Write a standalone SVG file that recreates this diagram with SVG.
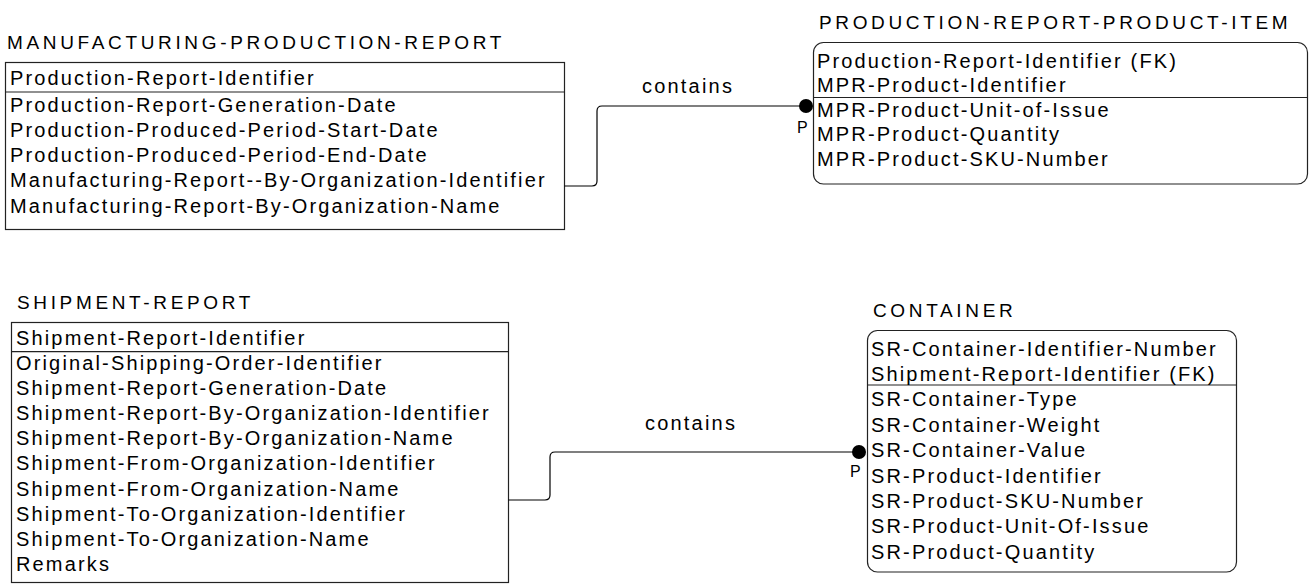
<svg xmlns="http://www.w3.org/2000/svg" width="1315" height="584" viewBox="0 0 1315 584">
  <style>
    .title { font-family: "Liberation Sans", Arial, sans-serif; font-size: 19px; letter-spacing: 3.65px; fill: #000; }
    .attr { font-family: "Liberation Sans", Arial, sans-serif; font-size: 20px; letter-spacing: 2.15px; fill: #000; }
    .lbl { font-family: "Liberation Sans", Arial, sans-serif; font-size: 20px; letter-spacing: 2.2px; fill: #000; }
    .card { font-family: "Liberation Sans", Arial, sans-serif; font-size: 16px; fill: #000; }
    .box { fill: #fff; stroke: #222; stroke-width: 1.2; }
    .div { stroke: #222; stroke-width: 1.2; }
    .rel { fill: none; stroke: #000; stroke-width: 1.2; }
  </style>

  <!-- independent entity: MANUFACTURING-PRODUCTION-REPORT -->
  <g id="manufacturing-production-report">
    <text class="title" x="7" y="49">MANUFACTURING-PRODUCTION-REPORT</text>
    <rect class="box" x="5.5" y="62.5" width="559" height="167"/>
    <line class="div" x1="5.5" y1="92" x2="564.5" y2="92"/>
    <text class="attr" x="10" y="85">Production-Report-Identifier</text>
    <text class="attr" x="10" y="111.5">Production-Report-Generation-Date</text>
    <text class="attr" x="10" y="136.8">Production-Produced-Period-Start-Date</text>
    <text class="attr" x="10" y="162.1">Production-Produced-Period-End-Date</text>
    <text class="attr" x="10" y="187.4">Manufacturing-Report--By-Organization-Identifier</text>
    <text class="attr" x="10" y="212.7">Manufacturing-Report-By-Organization-Name</text>
  </g>

  <!-- dependent entity: PRODUCTION-REPORT-PRODUCT-ITEM -->
  <g id="production-report-product-item">
    <text class="title" x="819" y="29">PRODUCTION-REPORT-PRODUCT-ITEM</text>
    <rect class="box" x="813.5" y="42.5" width="494" height="141.5" rx="10" ry="10"/>
    <line class="div" x1="813.5" y1="97.5" x2="1307.5" y2="97.5"/>
    <text class="attr" x="817" y="67.5">Production-Report-Identifier (FK)</text>
    <text class="attr" x="817" y="92">MPR-Product-Identifier</text>
    <text class="attr" x="817" y="116.5">MPR-Product-Unit-of-Issue</text>
    <text class="attr" x="817" y="141">MPR-Product-Quantity</text>
    <text class="attr" x="817" y="165.5">MPR-Product-SKU-Number</text>
  </g>

  <!-- independent entity: SHIPMENT-REPORT -->
  <g id="shipment-report">
    <text class="title" x="17" y="309">SHIPMENT-REPORT</text>
    <rect class="box" x="11.5" y="322.5" width="497" height="260"/>
    <line class="div" x1="11.5" y1="351.7" x2="508.5" y2="351.7"/>
    <text class="attr" x="16" y="344.5">Shipment-Report-Identifier</text>
    <text class="attr" x="16" y="369.5">Original-Shipping-Order-Identifier</text>
    <text class="attr" x="16" y="394.7">Shipment-Report-Generation-Date</text>
    <text class="attr" x="16" y="419.9">Shipment-Report-By-Organization-Identifier</text>
    <text class="attr" x="16" y="445.1">Shipment-Report-By-Organization-Name</text>
    <text class="attr" x="16" y="470.3">Shipment-From-Organization-Identifier</text>
    <text class="attr" x="16" y="495.5">Shipment-From-Organization-Name</text>
    <text class="attr" x="16" y="520.7">Shipment-To-Organization-Identifier</text>
    <text class="attr" x="16" y="545.9">Shipment-To-Organization-Name</text>
    <text class="attr" x="16" y="571.1">Remarks</text>
  </g>

  <!-- dependent entity: CONTAINER -->
  <g id="container">
    <text class="title" x="873" y="317">CONTAINER</text>
    <rect class="box" x="867.5" y="330.5" width="369" height="241.5" rx="10" ry="10"/>
    <line class="div" x1="867.5" y1="385" x2="1236.5" y2="385"/>
    <text class="attr" x="871" y="355.5">SR-Container-Identifier-Number</text>
    <text class="attr" x="871" y="380.9">Shipment-Report-Identifier (FK)</text>
    <text class="attr" x="871" y="406.3">SR-Container-Type</text>
    <text class="attr" x="871" y="431.7">SR-Container-Weight</text>
    <text class="attr" x="871" y="457.1">SR-Container-Value</text>
    <text class="attr" x="871" y="482.5">SR-Product-Identifier</text>
    <text class="attr" x="871" y="507.9">SR-Product-SKU-Number</text>
    <text class="attr" x="871" y="533.3">SR-Product-Unit-Of-Issue</text>
    <text class="attr" x="871" y="558.7">SR-Product-Quantity</text>
  </g>

  <!-- identifying relationships with "P" cardinality -->
  <g id="connectors">
    <path class="rel" d="M564.5,186 H592 Q597,186 597,181 V111 Q597,106 602,106 H806"/>
    <circle cx="806" cy="106" r="7" fill="#000"/>
    <text class="lbl" x="642" y="93">contains</text>
    <text class="card" x="797" y="133">P</text>

    <path class="rel" d="M508.5,500 H545 Q550,500 550,495 V457 Q550,452 555,452 H859"/>
    <circle cx="859" cy="452" r="7" fill="#000"/>
    <text class="lbl" x="645" y="430">contains</text>
    <text class="card" x="850" y="477">P</text>
  </g>
</svg>
